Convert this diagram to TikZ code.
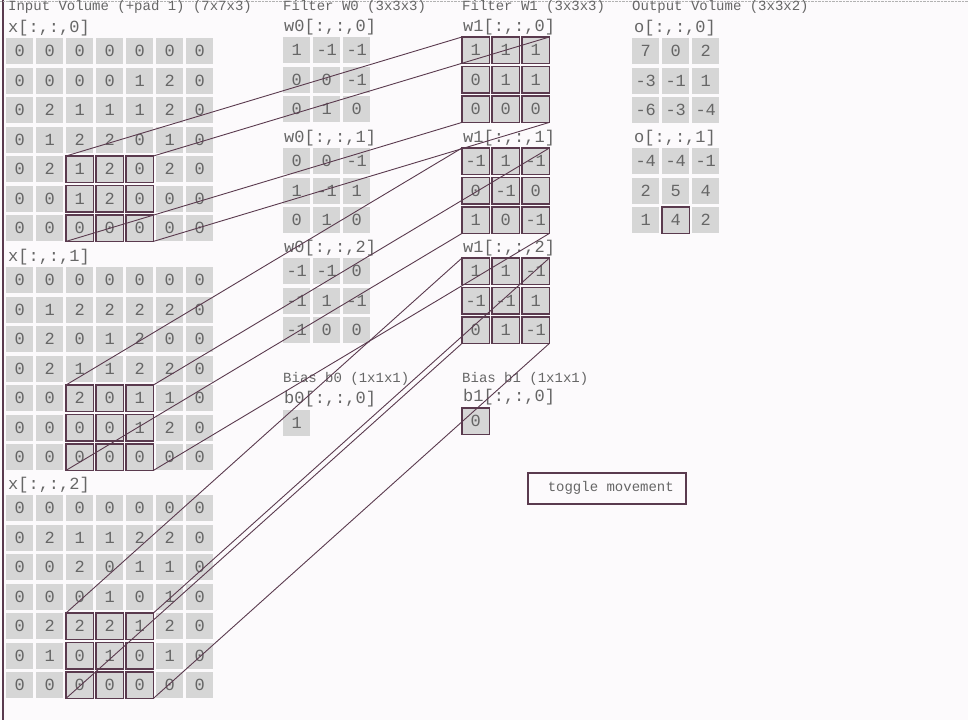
\documentclass[tikz,border=0pt]{standalone}
\usepackage{fontspec}
\setmonofont{Liberation Mono}
\usepackage{xcolor}
\definecolor{page}{HTML}{FCFAFC}
\definecolor{cellgray}{HTML}{D6D6D6}
\definecolor{ink}{HTML}{666666}
\definecolor{wire}{HTML}{5A3A4E}
\usetikzlibrary{positioning}

\newcommand{\numfont}{\ttfamily\fontsize{17}{17}\selectfont}
\newcommand{\ttlfont}{\ttfamily\fontsize{14}{14}\selectfont}

% one grid of values: name, left, top, rows
\newcommand{\valgrid}[4]{%
  \foreach \row [count=\r from 0] in {#4}{%
    \foreach \v [count=\c from 0] in \row{%
      \node[cell] (#1-\r-\c) at ({#2+30*\c},{#3+29.5*\r}) {\v};
    }
  }
}

\begin{document}
\begin{tikzpicture}[x=1pt, y=-1pt,
    cell/.style={fill=cellgray, minimum width=27, minimum height=26, inner sep=0,
                 anchor=north west, text=ink, font=\numfont},
    lbl/.style={text=ink, font=\numfont, inner sep=0},
    ttl/.style={text=ink, font=\ttlfont, inner sep=0, anchor=base west},
    hl/.style={draw=wire, line width=1.6pt},
    link/.style={draw=wire, line width=0.9pt},
    btn/.style={draw=wire, line width=1.6pt, minimum width=158, minimum height=31,
                anchor=north west, text=ink, font=\ttlfont}]
  \useasboundingbox (0,0) rectangle (968,720);
  \fill[page] (0,0) rectangle (968,720);
  \draw[wire, line width=2pt] (3,0) -- (3,720);
  \draw[gray!60, densely dotted] (0,1) -- (968,1);

  % titles
  \node[ttl] (tin)  at (8,10)   {Input Volume (+pad 1) (7x7x3)};
  \node[ttl] (tw0)  at (283,10) {Filter W0 (3x3x3)};
  \node[ttl] (tw1)  at (462,10) {Filter W1 (3x3x3)};
  \node[ttl] (tout) at (632,10) {Output Volume (3x3x2)};
  \node[ttl] (tb0)  at (283,382) {Bias b0 (1x1x1)};
  \node[ttl] (tb1)  at (462,382) {Bias b1 (1x1x1)};

  % input volume
  \valgrid{x0}{6}{38}{{0,0,0,0,0,0,0},{0,0,0,0,1,2,0},{0,2,1,1,1,2,0},{0,1,2,2,0,1,0},
    {0,2,1,2,0,2,0},{0,0,1,2,0,0,0},{0,0,0,0,0,0,0}}
  \valgrid{x1}{6}{267}{{0,0,0,0,0,0,0},{0,1,2,2,2,2,0},{0,2,0,1,2,0,0},{0,2,1,1,2,2,0},
    {0,0,2,0,1,1,0},{0,0,0,0,1,2,0},{0,0,0,0,0,0,0}}
  \valgrid{x2}{6}{495}{{0,0,0,0,0,0,0},{0,2,1,1,2,2,0},{0,0,2,0,1,1,0},{0,0,0,1,0,1,0},
    {0,2,2,2,1,2,0},{0,1,0,1,0,1,0},{0,0,0,0,0,0,0}}
  \foreach \k in {0,1,2}{%
    \node[lbl, above right=1.5pt and 2pt of x\k-0-0.north west] (x\k lbl) {x[:,:,\k]};
  }

  % filters
  \valgrid{w0-0}{283}{37}{{1,-1,-1},{0,0,-1},{0,1,0}}
  \valgrid{w0-1}{283}{148}{{0,0,-1},{1,-1,1},{0,1,0}}
  \valgrid{w0-2}{283}{258}{{-1,-1,0},{-1,1,-1},{-1,0,0}}
  \valgrid{w1-0}{462}{37}{{1,1,1},{0,1,1},{0,0,0}}
  \valgrid{w1-1}{462}{148}{{-1,1,-1},{0,-1,0},{1,0,-1}}
  \valgrid{w1-2}{462}{258}{{1,1,-1},{-1,-1,1},{0,1,-1}}
  \foreach \f in {0,1}{%
    \foreach \k in {0,1,2}{%
      \node[lbl, above right=1.5pt and 1pt of w\f-\k-0-0.north west] (w\f-\k lbl) {w\f[:,:,\k]};
    }
  }

  % biases
  \valgrid{b0}{283}{410}{{1}}
  \valgrid{b1}{462}{408}{{0}}
  \foreach \f in {0,1}{%
    \node[lbl, above right=3pt and 1pt of b\f-0-0.north west] (b\f lbl) {b\f[:,:,0]};
  }

  % output volume
  \valgrid{o0}{632}{38}{{7,0,2},{-3,-1,1},{-6,-3,-4}}
  \valgrid{o1}{632}{148}{{-4,-4,-1},{2,5,4},{1,4,2}}
  \foreach \k in {0,1}{%
    \node[lbl, above right=1.5pt and 2pt of o\k-0-0.north west] (o\k lbl) {o[:,:,\k]};
  }

  % current receptive field, filter and output
  \foreach \k in {0,1,2}{%
    \foreach \r in {4,5,6}{%
      \foreach \c in {2,3,4}{%
        \draw[hl] (x\k-\r-\c.north west) rectangle (x\k-\r-\c.south east);
      }
    }
    \foreach \r in {0,1,2}{%
      \foreach \c in {0,1,2}{%
        \draw[hl] (w1-\k-\r-\c.north west) rectangle (w1-\k-\r-\c.south east);
      }
    }
  }
  \draw[hl] (b1-0-0.north west) rectangle (b1-0-0.south east);
  \draw[hl] (o1-2-1.north west) rectangle (o1-2-1.south east);

  % links from input window to filter
  \foreach \k in {0,1,2}{%
    \draw[link] (x\k-4-2.north west) -- (w1-\k-0-0.north west);
    \draw[link] (x\k-4-4.north east) -- (w1-\k-0-2.north east);
    \draw[link] (x\k-6-2.south west) -- (w1-\k-2-0.south west);
    \draw[link] (x\k-6-4.south east) -- (w1-\k-2-2.south east);
  }

  \node[btn] (toggle) at (527,472) {\hspace{8pt}toggle movement};
\end{tikzpicture}
\end{document}
